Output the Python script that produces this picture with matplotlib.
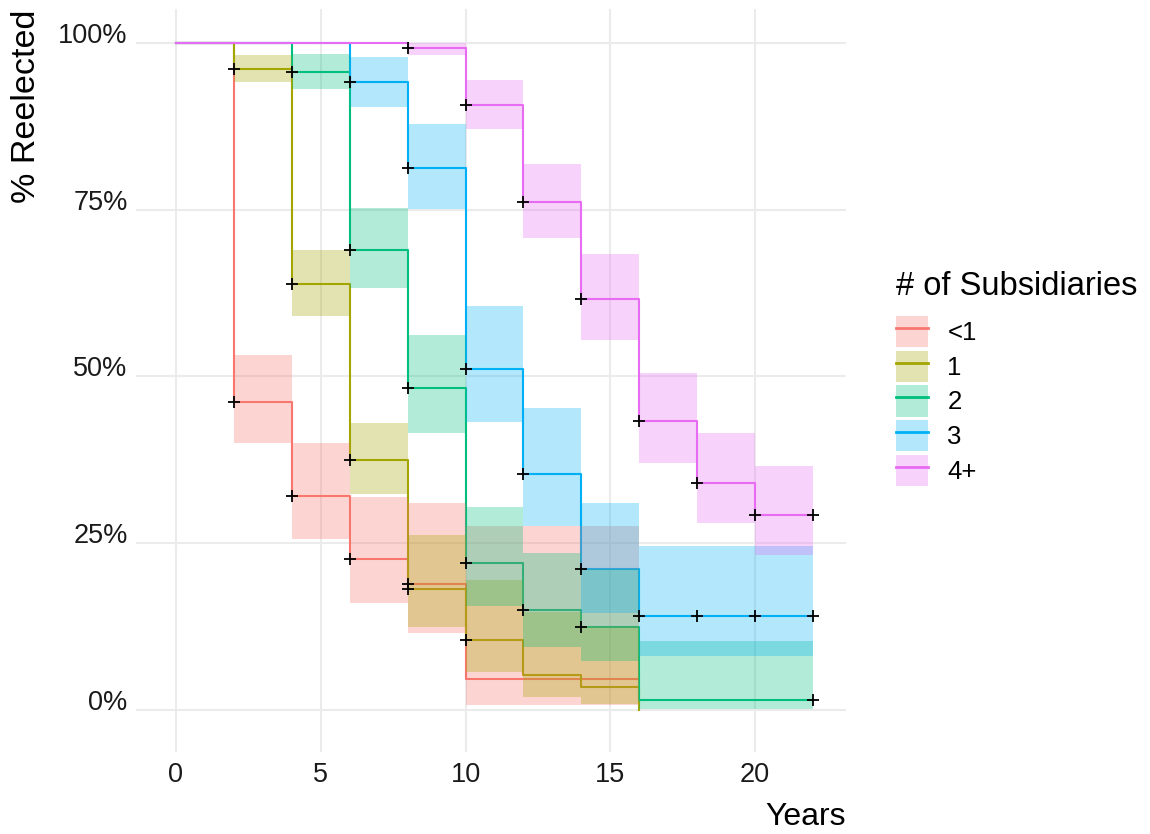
import numpy as np
import matplotlib
matplotlib.use("Agg")
import matplotlib.pyplot as plt
from matplotlib.patches import Patch
from matplotlib.lines import Line2D
from matplotlib.legend_handler import HandlerTuple

plt.rcParams['font.family'] = ['Liberation Sans', 'DejaVu Sans']

# Kaplan-Meier style step estimates (percent) with confidence limits
labels = ["<1", "1", "2", "3", "4+"]
colors = ["#F8766D", "#A3A500", "#00BF7D", "#00B0F6", "#E76BF3"]

times_lt1 = [0, 2, 4, 6, 8, 10, 16]
surv_lt1 = [100, 46.2, 32.1, 22.7, 18.9, 4.6, 4.6]
upper_lt1 = [100, 53.2, 40.1, 32.0, 31.0, 27.6, 27.6]
lower_lt1 = [100, 40.0, 25.6, 16.1, 11.5, 0.75, 0.75]
cens_lt1 = [2, 4, 6, 8]

times_1 = [0, 2, 4, 6, 8, 10, 12, 14, 16]
surv_1 = [100, 96.1, 63.8, 37.5, 18.1, 10.5, 5.2, 3.5, 0]
upper_1 = [100, 98.2, 69.0, 43.1, 26.2, 19.5, 14.7, 12.5, 0]
lower_1 = [100, 94.1, 59.0, 32.4, 12.5, 5.7, 2.0, 0.9, 0]
cens_1 = [2, 4, 6, 8, 10]

times_2 = [0, 4, 6, 8, 10, 12, 14, 16, 22]
surv_2 = [100, 95.7, 69.0, 48.3, 22.0, 15.0, 12.5, 1.5, 1.5]
upper_2 = [100, 98.4, 75.2, 56.2, 30.5, 23.5, 21.2, 10.4, 10.4]
lower_2 = [100, 93.1, 63.2, 41.6, 15.6, 9.5, 7.3, 0.1, 0.1]
cens_2 = [4, 6, 8, 10, 12, 14, 22]

times_3 = [0, 6, 8, 10, 12, 14, 16, 22]
surv_3 = [100, 94.2, 81.3, 51.1, 35.4, 21.2, 14.1, 14.1]
upper_3 = [100, 97.9, 87.9, 60.6, 45.3, 31.1, 24.6, 24.6]
lower_3 = [100, 90.4, 75.1, 43.2, 27.6, 14.5, 8.1, 8.1]
cens_3 = [6, 8, 10, 12, 14, 16, 18, 20, 22]

times_4 = [0, 8, 10, 12, 14, 16, 18, 20, 22]
surv_4 = [100, 99.3, 90.7, 76.1, 61.6, 43.3, 34.1, 29.2, 29.2]
upper_4 = [100, 100, 94.5, 81.8, 68.3, 50.5, 41.5, 36.6, 36.6]
lower_4 = [100, 98.2, 87.1, 70.7, 55.5, 37.0, 28.0, 23.2, 23.2]
cens_4 = [8, 10, 12, 14, 16, 18, 20, 22]

series = [
    (times_lt1, surv_lt1, lower_lt1, upper_lt1, cens_lt1),
    (times_1, surv_1, lower_1, upper_1, cens_1),
    (times_2, surv_2, lower_2, upper_2, cens_2),
    (times_3, surv_3, lower_3, upper_3, cens_3),
    (times_4, surv_4, lower_4, upper_4, cens_4),
]

W, H = 1150, 834
fig = plt.figure(figsize=(W / 100, H / 100), dpi=100)
left, right, top, bottom = 136, 845.7, 9.3, 751.7
ax = fig.add_axes([left / W, 1 - bottom / H, (right - left) / W, (bottom - top) / H])

# survival curves
for (t, s, lo, up, cen), c in zip(series, colors):
    ax.step(t, s, where='post', color=c, lw=1.5, zorder=2)

# confidence bands
for (t, s, lo, up, cen), c in zip(series, colors):
    ax.fill_between(t, lo, up, step='post', facecolor=c, alpha=0.3,
                    lw=0, zorder=3)

# censoring marks
for (t, s, lo, up, cen), c in zip(series, colors):
    t_arr = np.asarray(t, dtype=float)
    idx = np.searchsorted(t_arr, cen, side='right') - 1
    ax.plot(cen, np.asarray(s)[idx], ls='none', marker='+', color='black',
            ms=9, mew=1.3, zorder=4)

ax.set_xlim(-1.38, 23.13)
ax.set_ylim(-6.25, 105.05)
ax.set_xticks([0, 5, 10, 15, 20])
ax.set_yticks([0, 25, 50, 75, 100])
ax.set_yticklabels([f"{v}%" for v in [0, 25, 50, 75, 100]])
ax.tick_params(length=0, labelsize=19.5, labelcolor='#1a1a1a')
ax.tick_params(axis='y', pad=6)
ax.tick_params(axis='x', pad=7.5)
for lab in ax.get_yticklabels():
    lab.set_verticalalignment('baseline')
ax.grid(color='#EBEBEB', lw=1.5, zorder=0)
ax.set_axisbelow(True)
for sp in ax.spines.values():
    sp.set_visible(False)

ax.set_xlabel("Years", fontsize=23, loc='right')
ax.xaxis.set_label_coords(1.0, -0.068)
ax.set_ylabel("% Reelected", fontsize=24.5, loc='top')
ax.yaxis.set_label_coords(-0.133, 1.0)

handles = [(Patch(facecolor=c, alpha=0.3, lw=0), Line2D([], [], color=c, lw=2))
           for c in colors]
leg = fig.legend(handles, labels,
                 handler_map={tuple: HandlerTuple(ndivide=1, pad=0)},
                 loc='upper left', bbox_to_anchor=(896 / W, 1 - 271 / H),
                 frameon=False, title="# of Subsidiaries", title_fontsize=23.5,
                 fontsize=18.5, handlelength=1.25, handleheight=1.5,
                 labelspacing=0.13, handletextpad=0.75, borderpad=0,
                 borderaxespad=0, alignment='left')
# extra room between the legend title and its entries
leg._legend_box.sep = 10

fig.savefig("out.png", dpi=100)
